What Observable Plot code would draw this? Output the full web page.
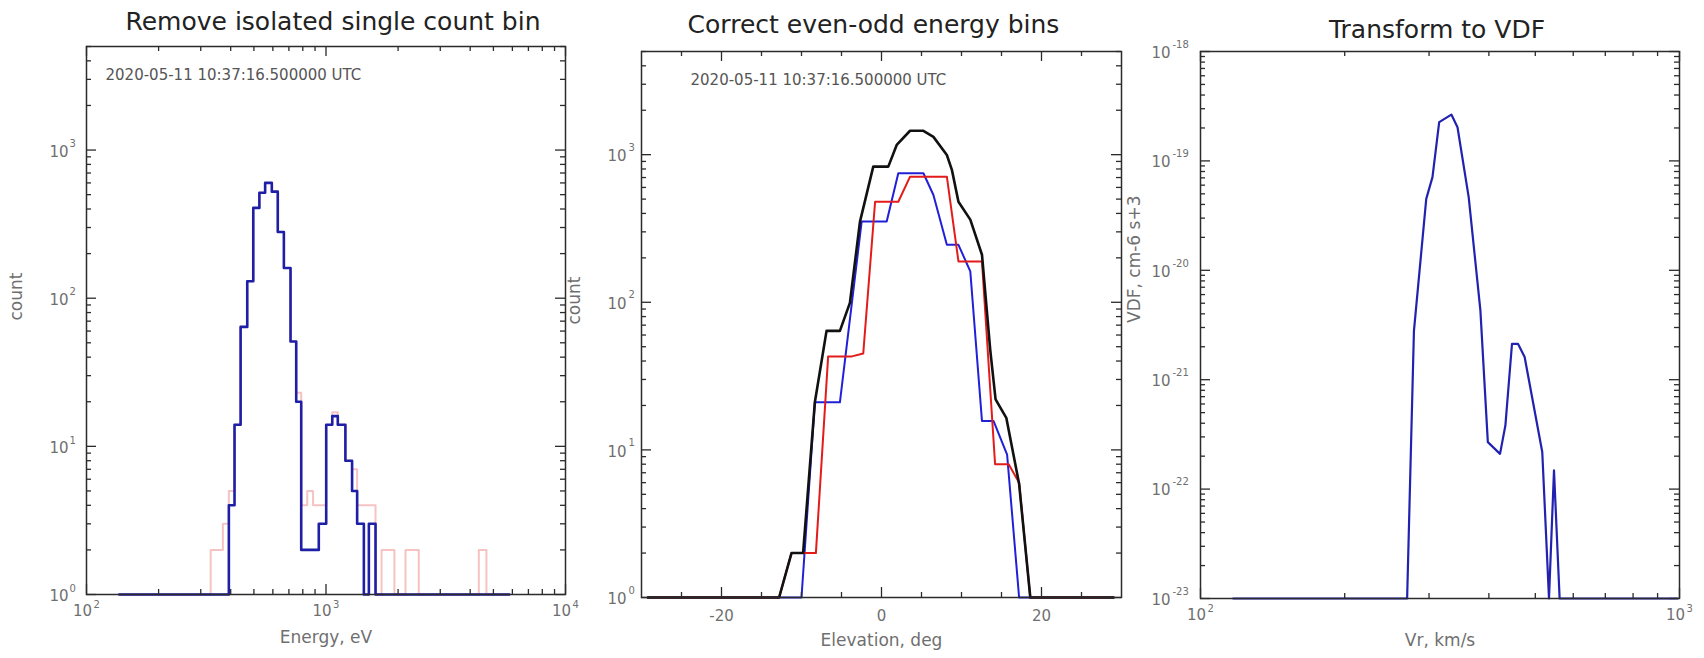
<!DOCTYPE html>
<html><head><meta charset="utf-8">
<script src="https://cdn.jsdelivr.net/npm/d3@7"></script>
<script src="https://cdn.jsdelivr.net/npm/@observablehq/plot@0.6"></script>
<style>
html,body{margin:0;padding:0;background:#fff;}
#chart{position:relative;width:1704px;height:658px;overflow:hidden;background:#fff;}
.panel{position:absolute;top:0;}
</style></head><body><div id="chart"></div>
<script>
// ---------------- Panel 1: energy histograms ----------------
const energyBlue = [137, 393, 415, 440, 469, 497, 527, 557, 594, 629, 667, 711, 751, 788, 835, 883, 933, 1002, 1062, 1120, 1205, 1285, 1349, 1439, 1510, 1610, 5820];
const countBlue  = [0, 4, 14, 64, 130, 407, 515, 600, 524, 280, 160, 51, 20, 2, 2, 2, 3, 14, 16, 14, 8, 5, 3, 0, 3, 0, 0];
const energyPink = [137, 330, 371, 393, 415, 440, 469, 497, 527, 557, 594, 629, 667, 711, 751, 788, 835, 883, 933, 1002, 1062, 1120, 1205, 1285, 1349, 1610, 1706, 1930, 2148, 2440, 4345, 4677, 5820];
const countPink  = [0, 2, 3, 5, 14, 64, 130, 407, 515, 600, 524, 280, 160, 51, 23, 4, 5, 4, 4, 14, 17, 14, 8, 7, 4, 0, 2, 0, 2, 0, 2, 0, 0];

// ---------------- Panel 2: elevation profiles ----------------
const elevBlack  = [-29.2, -12.8, -11.25, -9.8, -8.33, -6.87, -5.2, -3.95, -2.69, -1.03, 0.85, 1.9, 3.57, 5.24, 6.49, 8.17, 8.8, 9.62, 11.1, 12.56, 13.6, 14.26, 15.6, 17.2, 18.6, 29];
const countBlack = [0, 0, 2, 2, 21, 64, 64, 99, 352, 830, 830, 1164, 1452, 1452, 1320, 995, 789, 480, 363, 210, 47, 22, 16.5, 5.9, 0, 0];
const elevEven   = [-29.2, -10.0, -8.33, -5.2, -2.48, 0.65, 2.1, 5.24, 6.49, 8.17, 9.62, 11.1, 12.56, 14.0, 15.7, 17.2, 29];
const countEven  = [0, 0, 21, 21, 352, 352, 748, 748, 533, 245, 245, 162, 15.7, 15.7, 9.3, 0, 0];
const elevOdd    = [-29.2, -12.8, -11.25, -8.2, -6.67, -3.7, -2.28, -0.8, 2.1, 3.57, 8.17, 9.62, 12.56, 14.2, 15.9, 17.2, 18.6, 29];
const countOdd   = [0, 0, 2, 2, 43, 43, 45, 480, 480, 710, 710, 189, 189, 8, 8, 6, 0, 0];

// ---------------- Panel 3: VDF ----------------
const vr  = [117, 270, 279, 296, 305, 315, 334, 344, 363, 384, 398, 422, 433, 447, 460, 475, 517, 534, 547, 562, 990];
const vdf = [0, 0, 2.8e-21, 4.5e-20, 7.1e-20, 2.26e-19, 2.65e-19, 2.03e-19, 4.66e-20, 4.3e-21, 2.69e-22, 2.1e-22, 3.81e-22, 2.13e-21, 2.13e-21, 1.61e-21, 2.18e-22, 0, 1.48e-22, 0, 0];

// ---------------- Text & ticks ----------------
const titles = ["Remove isolated single count bin", "Correct even-odd energy bins", "Transform to VDF"];
const stamp = "2020-05-11 10:37:16.500000 UTC";
const xTitles = ["Energy, eV", "Elevation, deg", "Vr, km/s"];
const yTitles = ["count", "count", "VDF, cm-6 s+3"];
const countTicks = [1, 10, 100, 1000];
const countExp = ["0", "1", "2", "3"];
const energyTicks = [100, 1000, 10000];
const energyExp = ["2", "3", "4"];
const elevTicks = [-20, 0, 20];
const elevLabels = ["-20", "0", "20"];
const elevMinor = [-25, -15, -10, -5, 5, 10, 15, 25];
const vrTicks = [100, 1000];
const vrExp = ["2", "3"];
const vdfTicks = [1e-23, 1e-22, 1e-21, 1e-20, 1e-19, 1e-18];
const vdfExp = ["-23", "-22", "-21", "-20", "-19", "-18"];

const FONT = "DejaVu Sans";
const FRAME = "#2b2b2b";
const LABEL = "#6f6f6f";

function logMinors(lo, hi, max) {
  const out = [];
  for (let e = lo; e < hi; e++) for (let k = 2; k <= 9; k++) {
    const v = k * Math.pow(10, e);
    if (v <= max * 1.0001) out.push(v);
  }
  return out;
}

function tickMarks(xMaj, xMin, yMaj, yMin, fw, fh) {
  const s = {stroke: FRAME, strokeWidth: 1.3};
  const M = 10, m = 5;
  return [
    Plot.tickY(yMaj, {y: d => d, insetRight: fw - M, ...s}),
    Plot.tickY(yMaj, {y: d => d, insetLeft: fw - M, ...s}),
    Plot.tickY(yMin, {y: d => d, insetRight: fw - m, ...s}),
    Plot.tickY(yMin, {y: d => d, insetLeft: fw - m, ...s}),
    Plot.tickX(xMaj, {x: d => d, insetTop: fh - M, ...s}),
    Plot.tickX(xMaj, {x: d => d, insetBottom: fh - M, ...s}),
    Plot.tickX(xMin, {x: d => d, insetTop: fh - m, ...s}),
    Plot.tickX(xMin, {x: d => d, insetBottom: fh - m, ...s})
  ];
}

function texts(i, o) {
  return [
    Plot.text([titles[i]], {frameAnchor: "top", text: d => d, dx: o.tdx, dy: o.tdy, lineAnchor: "bottom", fontSize: 25, fill: "#222", fontFamily: FONT}),
    Plot.text([xTitles[i]], {frameAnchor: "bottom", text: d => d, dy: o.xdy, lineAnchor: "bottom", fontSize: 17, fill: LABEL, fontFamily: FONT}),
    Plot.text([yTitles[i]], {frameAnchor: "left", text: d => d, dx: o.ydx, dy: o.ydy, rotate: -90, fontSize: 17, fill: LABEL, fontFamily: FONT})
  ];
}

function stampMark(dx, dy) {
  return Plot.text([stamp], {frameAnchor: "top-left", text: d => d, dx, dy, textAnchor: "start", lineAnchor: "bottom", fontSize: 15, fill: "#555", fontFamily: FONT});
}

function yLogLabels(ticks, exps, dxTen, dxExp, dyTen, dyExp) {
  return [
    Plot.text(ticks, {y: d => d, text: () => "10", frameAnchor: "left", textAnchor: "end", dx: dxTen, dy: dyTen, fontSize: 15, fill: LABEL, fontFamily: FONT}),
    Plot.text(ticks, {y: d => d, text: (d, i) => exps[i], frameAnchor: "left", textAnchor: "start", dx: dxExp, dy: dyExp, fontSize: 10, fill: LABEL, fontFamily: FONT})
  ];
}
function xLogLabels(ticks, exps) {
  return [
    Plot.text(ticks, {x: d => d, text: () => "10", frameAnchor: "bottom", dx: -4, dy: 21, fontSize: 15, fill: LABEL, fontFamily: FONT}),
    Plot.text(ticks, {x: d => d, text: (d, i) => exps[i], frameAnchor: "bottom", textAnchor: "start", dx: 7, dy: 13, fontSize: 10, fill: LABEL, fontFamily: FONT})
  ];
}

function place(svg, left) {
  const div = document.createElement("div");
  div.className = "panel";
  div.style.left = left + "px";
  div.appendChild(svg);
  document.getElementById("chart").appendChild(div);
}

const baseStyle = {background: "none", overflow: "visible", maxWidth: "none"};

// Panel 1
{
  const W = 570, ml = 86, mr = 5, mt = 46, mb = 64;
  const fw = W - ml - mr, fh = 658 - mt - mb;
  const blue = energyBlue.map((e, i) => ({e, c: Math.max(countBlue[i], 1)}));
  const pink = energyPink.map((e, i) => ({e, c: Math.max(countPink[i], 1)}));
  const svg = Plot.plot({
    width: W, height: 658, marginLeft: ml, marginRight: mr, marginTop: mt, marginBottom: mb,
    style: baseStyle,
    x: {type: "log", domain: [100, 10000], axis: null},
    y: {type: "log", domain: [1, 5000], axis: null},
    marks: [
      Plot.line(pink, {x: "e", y: "c", curve: "step-after", stroke: "#f6c3c3", strokeWidth: 2}),
      Plot.line(blue, {x: "e", y: "c", curve: "step-after", stroke: "#1e1ea6", strokeWidth: 2.6}),
      Plot.frame({stroke: FRAME, strokeWidth: 1.5}),
      ...tickMarks(energyTicks, logMinors(2, 4, 10000), countTicks, logMinors(0, 4, 5000), fw, fh),
      ...yLogLabels(countTicks, countExp, -18, -17, 2, -6),
      ...xLogLabels(energyTicks, energyExp),
      stampMark(19, 33),
      ...texts(0, {tdx: 7, tdy: -17, xdy: 48, ydx: -70, ydy: 0})
    ]
  });
  place(svg, 0);
}

// Panel 2
{
  const W = 560, ml = 71, mr = 9, mt = 51, mb = 61;
  const fw = W - ml - mr, fh = 658 - mt - mb;
  const mk = (xs, ys) => xs.map((x, i) => ({x, c: Math.max(ys[i], 1)}));
  const svg = Plot.plot({
    width: W, height: 658, marginLeft: ml, marginRight: mr, marginTop: mt, marginBottom: mb,
    style: baseStyle,
    x: {type: "linear", domain: [-30, 30], axis: null},
    y: {type: "log", domain: [1, 5000], axis: null},
    marks: [
      Plot.line(mk(elevEven, countEven), {x: "x", y: "c", stroke: "#2020d8", strokeWidth: 2}),
      Plot.line(mk(elevOdd, countOdd), {x: "x", y: "c", stroke: "#e41b1b", strokeWidth: 2}),
      Plot.line(mk(elevBlack, countBlack), {x: "x", y: "c", stroke: "#111", strokeWidth: 2.6}),
      Plot.frame({stroke: FRAME, strokeWidth: 1.5}),
      ...tickMarks(elevTicks, elevMinor, countTicks, logMinors(0, 4, 5000), fw, fh),
      ...yLogLabels(countTicks, countExp, -15, -13, 2, -7),
      Plot.text(elevTicks, {x: d => d, text: (d, i) => elevLabels[i], frameAnchor: "bottom", dy: 23, fontSize: 15, fill: LABEL, fontFamily: FONT}),
      stampMark(49, 33),
      ...texts(1, {tdx: -8, tdy: -19, xdy: 48, ydx: -67, ydy: 0})
    ]
  });
  place(svg, 570);
}

// Panel 3
{
  const W = 574, ml = 70, mr = 25, mt = 51, mb = 60;
  const fw = W - ml - mr, fh = 658 - mt - mb;
  const data = vr.map((v, i) => ({v, f: Math.max(vdf[i], 1e-23)}));
  const svg = Plot.plot({
    width: W, height: 658, marginLeft: ml, marginRight: mr, marginTop: mt, marginBottom: mb,
    style: baseStyle,
    x: {type: "log", domain: [100, 1000], axis: null},
    y: {type: "log", domain: [1e-23, 1e-18], axis: null},
    marks: [
      Plot.line(data, {x: "v", y: "f", stroke: "#2222b0", strokeWidth: 2.2}),
      Plot.frame({stroke: FRAME, strokeWidth: 1.5}),
      ...tickMarks(vrTicks, logMinors(2, 3, 1000), vdfTicks, logMinors(-23, -18, 1e-18), fw, fh),
      ...yLogLabels(vdfTicks, vdfExp, -30, -28, 1.5, -7),
      ...xLogLabels(vrTicks, vrExp),
      ...texts(2, {tdx: -3, tdy: -14, xdy: 47, ydx: -66, ydy: -2})
    ]
  });
  place(svg, 1130);
}
</script></body></html>
